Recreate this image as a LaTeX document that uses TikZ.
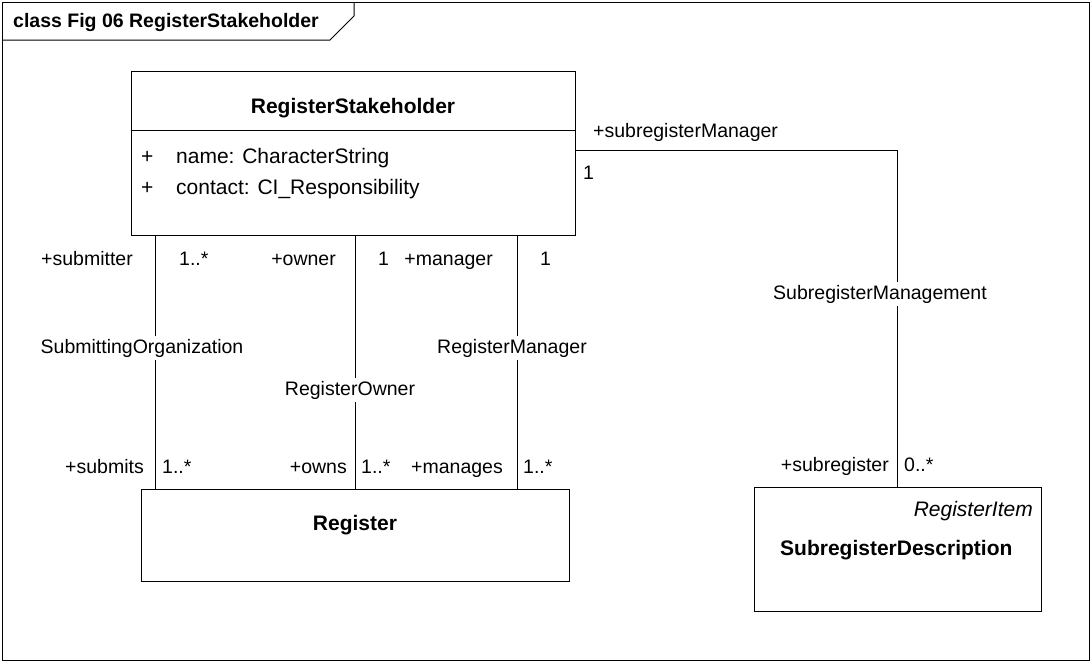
\documentclass[tikz,border=0pt]{standalone}
\usepackage{fontspec}
\setmainfont{Liberation Sans}
\usetikzlibrary{positioning}
\tikzset{
    clase/.style={draw, line width=1pt, inner sep=0pt},
    linea/.style={line width=1pt},
    etiqueta/.style={font=\fontsize{19.5}{23}\selectfont, inner sep=0pt},
    asociacion/.style={etiqueta, fill=white, inner xsep=0pt, inner ysep=3pt},
    nombre/.style={font=\bfseries\fontsize{21}{25}\selectfont, inner sep=0pt},
}

\begin{document}
\begin{tikzpicture}[x=1pt,y=-1pt]
\useasboundingbox (0,0) rectangle (1092,662);
% Marco
\draw[linea] (2,2) rectangle (1089,660);
\draw[linea] (2,40) -- (330,40) -- (354,16) -- (354,2);
\node[nombre, font=\bfseries\fontsize{19.5}{23}\selectfont, anchor=base west] (titulo) at (13,27) {class Fig 06 RegisterStakeholder};
% RegisterStakeholder
\node[clase, minimum width=444pt, minimum height=164pt] (stake) at (353,153) {};
\draw[linea] (stake.west |- 0,130) -- (stake.east |- 0,130);
\node[nombre, anchor=base] (stakeN) at (353,113) {RegisterStakeholder};
\node[etiqueta, anchor=base west, font=\fontsize{21}{25}\selectfont] (vis1) at (141,163) {+};
\node[etiqueta, anchor=base west, font=\fontsize{21}{25}\selectfont] (at1) at (176,163) {name: CharacterString};
\node[etiqueta, anchor=base west, font=\fontsize{21}{25}\selectfont] (vis2) at (141,194) {+};
\node[etiqueta, anchor=base west, font=\fontsize{21}{25}\selectfont] (at2) at (176,194) {contact: CI\_Responsibility};
% Register
\node[clase, minimum width=428pt, minimum height=92pt] (reg) at (355,535) {};
\node[nombre, anchor=base] (regN) at (355,530) {Register};
% SubregisterDescription
\node[clase, minimum width=287pt, minimum height=124pt] (sub) at (897.5,549) {};
\node[etiqueta, anchor=base east, font=\itshape\fontsize{21}{25}\selectfont] (subS) at (1033,516) {RegisterItem};
\node[nombre, anchor=base west] (subN) at (780,555) {SubregisterDescription};
% Asociaciones
\draw[linea] (stake.south -| 155,0) -- (reg.north -| 155,0);
\draw[linea] (stake.south -| 355,0) -- (reg.north -| 355,0);
\draw[linea] (stake.south -| 517,0) -- (reg.north -| 517,0);
\draw[linea] (stake.east |- 0,150) -| (sub.north);
% SubmittingOrganization
\node[etiqueta, anchor=base east] (r1a) at (133,265) {+submitter};
\node[etiqueta, anchor=base west] (m1a) at (179,265) {1..*};
\node[asociacion, anchor=base] (a1) at (142,353) {SubmittingOrganization};
\node[etiqueta, anchor=base east] (r1b) at (144,473) {+submits};
\node[etiqueta, anchor=base west] (m1b) at (162,473) {1..*};
% RegisterOwner
\node[etiqueta, anchor=base east] (r2a) at (336,265) {+owner};
\node[etiqueta, anchor=base west] (m2a) at (378,265) {1};
\node[asociacion, anchor=base] (a2) at (350,395) {RegisterOwner};
\node[etiqueta, anchor=base east] (r2b) at (347,473) {+owns};
\node[etiqueta, anchor=base west] (m2b) at (361,473) {1..*};
% RegisterManager
\node[etiqueta, anchor=base east] (r3a) at (493,265) {+manager};
\node[etiqueta, anchor=base west] (m3a) at (540,265) {1};
\node[asociacion, anchor=base] (a3) at (512,353) {RegisterManager};
\node[etiqueta, anchor=base east] (r3b) at (503,473) {+manages};
\node[etiqueta, anchor=base west] (m3b) at (523,473) {1..*};
% SubregisterManagement
\node[etiqueta, anchor=base west] (r4a) at (593,137) {+subregisterManager};
\node[etiqueta, anchor=base west] (m4a) at (583,179) {1};
\node[asociacion, anchor=base] (a4) at (880,299) {SubregisterManagement};
\node[etiqueta, anchor=base east] (r4b) at (889,471) {+subregister};
\node[etiqueta, anchor=base west] (m4b) at (904,471) {0..*};
\end{tikzpicture}
\end{document}
